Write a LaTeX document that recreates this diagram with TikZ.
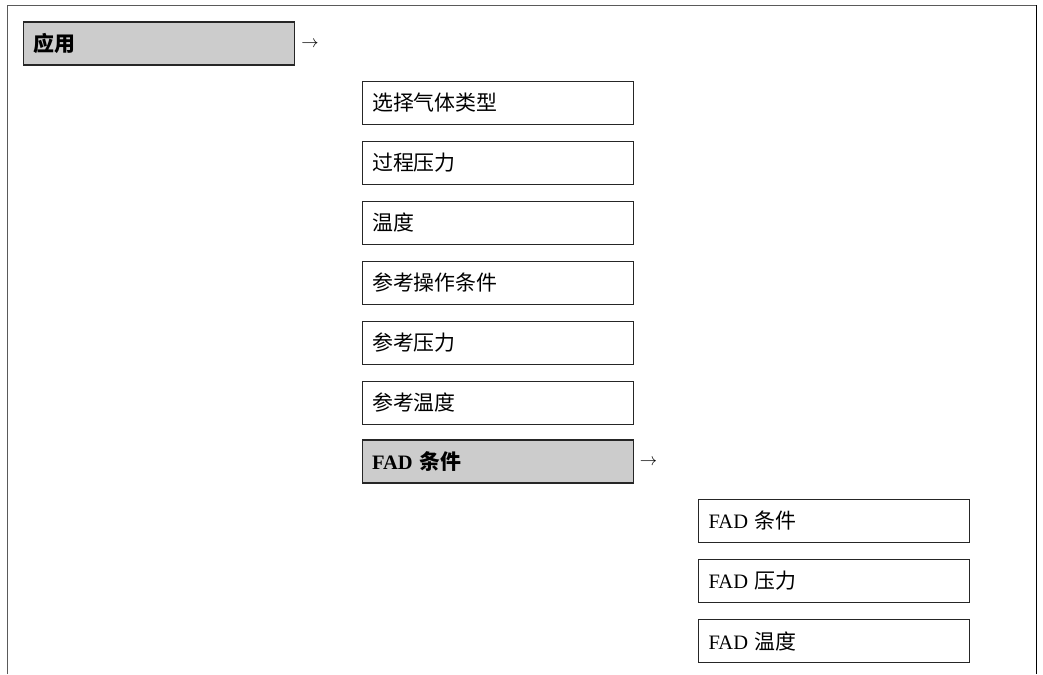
\documentclass[tikz,border=0pt]{standalone}
\usepackage{fontspec}
\setmainfont{Liberation Serif}
\newfontfamily\cjk{Noto Sans CJK SC}[Scale=1.02]
\begin{document}
\begin{tikzpicture}[x=1pt,y=-1pt,
  framegray/.style={draw={rgb,255:red,90;green,90;blue,90}, line width=1.8pt},
  menubox/.style={draw=black!85, line width=1.2pt, minimum height=43pt, text width=251pt,
     inner xsep=10pt, inner ysep=0pt, align=left, anchor=west,
     font=\fontsize{20.5}{24}\selectfont},
  grayfill/.style={fill={rgb,255:red,204;green,204;blue,204}, font=\fontsize{20.5}{24}\selectfont\bfseries},
  arrowtxt/.style={inner sep=0pt, font=\fontsize{17}{20}\selectfont}]
\useasboundingbox (0,0) rectangle (1043,674);
% frame
\coordinate (tl) at (7.5,5.5);
\coordinate (tr) at (1036.5,5.5);
\coordinate (bl) at (7.5,674);
\coordinate (br) at (1036.5,674);
\draw[framegray] (bl) -- (tl) -- (tr);
\draw[line width=1.8pt, black] (tr) -- (br);
% level 1
\node[menubox, grayfill] (app) at (23,43.5) {{\cjk\bfseries 应用}};
\node[arrowtxt] (appar) at (310,44) {$\rightarrow$};
% level 2
\node[menubox] (b1) at (361.5,103) {\cjk 选择气体类型};
\node[menubox] (b2) at (361.5,163) {\cjk 过程压力};
\node[menubox] (b3) at (361.5,223) {\cjk 温度};
\node[menubox] (b4) at (361.5,283) {\cjk 参考操作条件};
\node[menubox] (b5) at (361.5,343) {\cjk 参考压力};
\node[menubox] (b6) at (361.5,403) {\cjk 参考温度};
\node[menubox, grayfill] (fad) at (361.5,461.5) {FAD {\cjk\bfseries 条件}};
\node[arrowtxt] (fadar) at (648.5,462) {$\rightarrow$};
% level 3
\node[menubox] (c1) at (698,521) {FAD {\cjk 条件}};
\node[menubox] (c2) at (698,581) {FAD {\cjk 压力}};
\node[menubox] (c3) at (698,641) {FAD {\cjk 温度}};
\end{tikzpicture}
\end{document}
